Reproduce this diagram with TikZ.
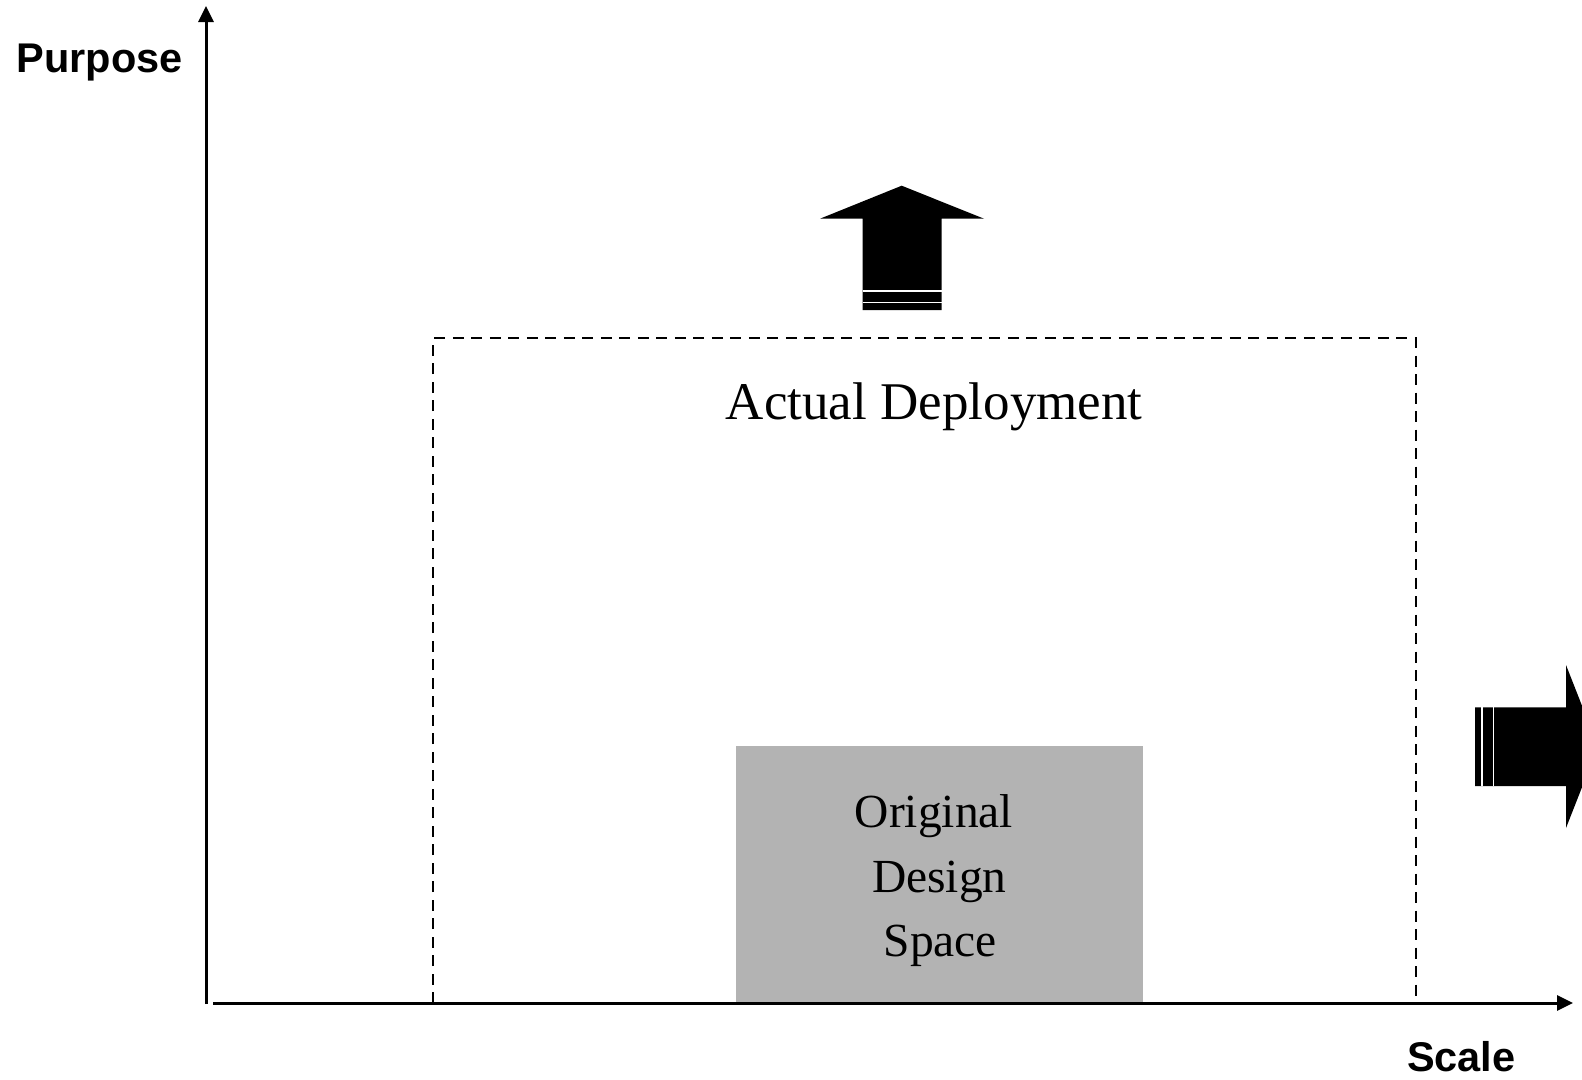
\documentclass[tikz,border=0pt]{standalone}
\usepackage{fontspec}
\setmainfont{Liberation Serif}
\newfontfamily\labelsans{Liberation Sans}
\usetikzlibrary{arrows.meta}
\definecolor{spacegray}{RGB}{179,179,179}
\tikzset{
  axis/.style={line width=3pt, -{Triangle[width=15pt,length=16pt]}},
  boundary/.style={line width=2.2pt, dash pattern=on 11pt off 7.5pt},
  axislabel/.style={anchor=base, inner sep=0pt, font=\labelsans\bfseries\fontsize{41.5}{41.5}\selectfont},
  spacetext/.style={anchor=base, inner sep=0pt, font=\fontsize{47.5}{47.5}\selectfont},
  bigarrow/.style={fill=black},
  stripe/.style={white, line width=1.2pt},
}
\begin{document}
\begin{tikzpicture}[x=1pt, y=-1pt]
  \useasboundingbox (0,0) rectangle (1582,1079);

  % original design space block
  \node[fill=spacegray, inner sep=0pt, minimum width=407.4pt, minimum height=258.3pt,
        anchor=north west] (design) at (735.6,745.7) {};
  \node[spacetext] (t1) at (934,827) {Original};
  \node[spacetext] (t2) at (939.3,892) {Design};
  \node[spacetext] (t3) at (940.3,956.5) {Space};

  % actual deployment region
  \coordinate (dtl) at (433,338.3);
  \coordinate (dbr) at (1416,1003);
  \draw[boundary] (dtl |- dbr) -- (dtl) -- (dbr |- dtl) -- (dbr);
  \node[anchor=base, inner sep=0pt, font=\fontsize{53}{53}\selectfont] (deploy)
    at (934.2,419) {Actual Deployment};

  % axes
  \coordinate (ybot) at (206,1004);
  \coordinate (ytop) at (206,6);
  \coordinate (xleft) at (213,1003);
  \coordinate (xright) at (1573,1003);
  \draw[axis] (ybot) -- (ytop);
  \draw[axis] (xleft) -- (xright);
  \node[axislabel] (purpose) at (99.5,72.5) {Purpose};
  \node[axislabel] (scale) at (1461.3,1071.5) {Scale};

  % growth arrow: purpose
  \fill[bigarrow] (901.7,185.7) -- (984,218.7) -- (941.7,218.7) -- (941.7,310)
    -- (862.7,310) -- (862.7,218.7) -- (820,218.7) -- cycle;
  \draw[stripe] (862.7,291) -- (941.7,291);
  \draw[stripe] (862.7,302.7) -- (941.7,302.7);

  % growth arrow: scale
  \fill[bigarrow] (1598,746.5) -- (1566,665) -- (1566,707.3) -- (1475,707.3)
    -- (1475,786) -- (1566,786) -- (1566,828) -- cycle;
  \draw[stripe] (1482,707.3) -- (1482,786);
  \draw[stripe] (1493.3,707.3) -- (1493.3,786);
\end{tikzpicture}
\end{document}
